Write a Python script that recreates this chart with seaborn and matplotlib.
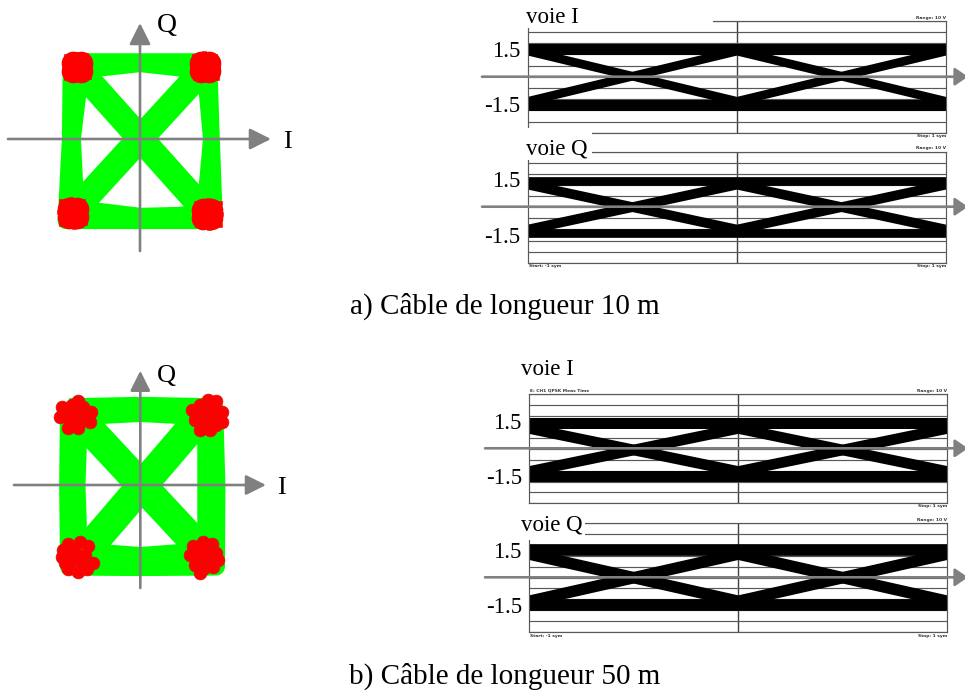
import pandas as pd
import matplotlib.pyplot as plt
from matplotlib.patches import FancyArrowPatch, Rectangle
import seaborn as sns

W, H = 965, 693
GREEN = '#00ff00'
RED = '#ff0000'
GRAY = '#808080'
LINE = '#585858'

# ==========================================
# DATA - constellations (I, Q)
# ==========================================
# 10 m cable
a_outer_i = [-1.60, 0, 1.60, 1.66, 1.73, 0, -1.72, -1.62, -1.60]
a_outer_q = [1.62, 1.62, 1.62, 0, -1.71, -1.71, -1.71, 0, 1.62]
a_top_i = [-1.50, -0.80, 0, 0.80, 1.50]
a_top_q = [1.42, 1.48, 1.56, 1.48, 1.42]
a_right_i = [1.48, 1.55, 1.64, 1.55, 1.52]
a_right_q = [1.50, 0.90, 0, -0.90, -1.50]
a_bottom_i = [-1.50, -0.90, 0, 0.90, 1.50]
a_bottom_q = [-1.44, -1.50, -1.60, -1.58, -1.52]
a_left_i = [-1.40, -1.43, -1.55, -1.50, -1.47]
a_left_q = [1.50, 0.90, 0, -0.90, -1.50]
a_diag1_i = [-1.45, 1.55]
a_diag1_q = [1.48, -1.54]
a_diag2_i = [1.50, -1.55]
a_diag2_q = [1.48, -1.52]

# solid centre of each cluster
a_core_i = [-1.54, -1.36, -1.54, -1.36, 1.41, 1.59, 1.41, 1.59,
            -1.64, -1.46, -1.64, -1.46, 1.46, 1.64, 1.46, 1.64]
a_core_q = [1.58, 1.58, 1.42, 1.42, 1.58, 1.58, 1.42, 1.42,
            -1.46, -1.46, -1.62, -1.62, -1.48, -1.48, -1.64, -1.64]
# speckle on the rim of each cluster
a_red_i = [-1.72, -1.50, -1.24, -1.16, -1.18, -1.42, -1.70, -1.74,
           1.25, 1.48, 1.74, 1.80, 1.78, 1.56, 1.26, 1.20,
           -1.82, -1.60, -1.32, -1.26, -1.28, -1.52, -1.82, -1.88,
           1.30, 1.56, 1.84, 1.88, 1.85, 1.60, 1.32, 1.25]
a_red_q = [1.73, 1.78, 1.75, 1.52, 1.30, 1.24, 1.27, 1.50,
           1.73, 1.79, 1.72, 1.50, 1.28, 1.22, 1.28, 1.50,
           -1.30, -1.26, -1.29, -1.54, -1.76, -1.84, -1.78, -1.52,
           -1.34, -1.28, -1.34, -1.56, -1.79, -1.86, -1.80, -1.56]

# 50 m cable
b_outer_i = [-1.62, 0, 1.68, 1.73, 1.72, 0, -1.62, -1.64, -1.62]
b_outer_q = [1.62, 1.65, 1.62, 0, -1.70, -1.71, -1.70, 0, 1.62]
b_top_i = [-1.50, -0.85, 0, 0.85, 1.50]
b_top_q = [1.42, 1.46, 1.50, 1.46, 1.42]
b_right_i = [1.48, 1.50, 1.50, 1.50, 1.52]
b_right_q = [1.50, 0.80, 0, -0.80, -1.50]
b_bottom_i = [-1.50, -0.85, 0, 0.85, 1.50]
b_bottom_q = [-1.40, -1.42, -1.48, -1.42, -1.40]
b_left_i = [-1.42, -1.42, -1.45, -1.42, -1.44]
b_left_q = [1.50, 0.80, 0, -0.80, -1.50]
b_diag1_i = [-1.50, 1.50]
b_diag1_q = [1.50, -1.45]
b_diag2_i = [1.50, -1.40]
b_diag2_q = [1.55, -1.55]

b_red_i = [-1.41, -1.56, -1.30, -1.79, -1.75, -1.48, -1.22, -1.60, -1.37, -1.14, -1.64, -1.41, -1.83, -1.11,
           1.55, 1.73, 1.36, 1.66, 1.17, 1.43, 1.85, 1.66, 1.24, 1.47, 1.85, 1.36, 1.58, 1.73,
           -1.37, -1.64, -1.18, -1.75, -1.48, -1.26, -1.79, -1.07, -1.56, -1.33, -1.64, -1.41, -1.22, -1.71,
           1.43, 1.62, 1.20, 1.36, 1.55, 1.73, 1.13, 1.28, 1.51, 1.77, 1.24, 1.43, 1.66, 1.36]
b_red_q = [1.74, 1.67, 1.63, 1.63, 1.49, 1.49, 1.46, 1.35, 1.32, 1.32, 1.18, 1.18, 1.42, 1.53,
           1.77, 1.74, 1.67, 1.60, 1.56, 1.49, 1.53, 1.39, 1.35, 1.28, 1.32, 1.15, 1.15, 1.25,
           -1.18, -1.22, -1.28, -1.35, -1.39, -1.46, -1.49, -1.63, -1.56, -1.63, -1.74, -1.81, -1.74, -1.63,
           -1.18, -1.22, -1.28, -1.35, -1.39, -1.42, -1.46, -1.53, -1.56, -1.56, -1.67, -1.74, -1.70, -1.84]

# ==========================================
# DATA - eye diagrams (time in symbols, volts)
# ==========================================
eye_t = [-1, 0, 1]
eye_grid = [-3, -2.4, -1.8, -1.2, -0.6, 0, 0.6, 1.2, 1.8, 2.4, 3]

a_i_high = [1.46, 1.46, 1.46]
a_i_low = [-1.52, -1.52, -1.52]
a_i_down = [1.37, -1.32, 1.37]
a_i_up = [-1.32, 1.37, -1.32]

a_q_high = [1.39, 1.39, 1.39]
a_q_low = [-1.38, -1.38, -1.38]
a_q_down = [1.22, -1.21, 1.22]
a_q_up = [-1.21, 1.22, -1.21]

b_i_high = [1.40, 1.40, 1.40]
b_i_low = [-1.49, -1.49, -1.49]
b_i_down = [1.12, -1.25, 1.12]
b_i_up = [-1.25, 1.12, -1.25]

b_q_high = [1.53, 1.53, 1.53]
b_q_low = [-1.51, -1.51, -1.51]
b_q_down = [1.28, -1.30, 1.28]
b_q_up = [-1.30, 1.28, -1.30]

sns.set_theme(style="white")
plt.rcParams['font.family'] = ['Liberation Serif', 'DejaVu Serif']

fig = plt.figure(figsize=(W / 100, H / 100), dpi=100, facecolor='white')


def px_axes(x0, y0, x1, y1):
    ax = fig.add_axes([x0 / W, 1 - y1 / H, (x1 - x0) / W, (y1 - y0) / H])
    ax.patch.set_alpha(0)
    return ax


def px_text(x, y, s, size, **kw):
    fig.text(x / W, 1 - y / H, s, fontsize=size, va='baseline', zorder=8, color=kw.pop('color', 'black'), **kw)


def px_arrow(x0, y0, x1, y1, head_l, head_w):
    style = f'-|>,head_length={head_l * 0.72},head_width={head_w * 0.36}'
    fig.add_artist(FancyArrowPatch((x0 / W, 1 - y0 / H), (x1 / W, 1 - y1 / H), transform=fig.transFigure,
                                   arrowstyle=style, mutation_scale=1, shrinkA=0, shrinkB=0,
                                   color=GRAY, lw=1.9, zorder=7))


def px_mask(x0, y0, x1, y1):
    fig.add_artist(Rectangle((x0 / W, 1 - y1 / H), (x1 - x0) / W, (y1 - y0) / H, transform=fig.transFigure,
                             facecolor='white', edgecolor='none', zorder=5))


def traces(*pairs):
    rows = []
    for n, (xs, ys) in enumerate(pairs):
        rows.append(pd.DataFrame({'trace': n, 'x': xs, 'y': ys}))
    return pd.concat(rows, ignore_index=True)


def draw_lines(ax, df, color, width_px):
    sns.lineplot(data=df, x='x', y='y', units='trace', estimator=None, sort=False, color=color,
                 linewidth=width_px * 0.72, solid_capstyle='butt', solid_joinstyle='round',
                 legend=False, ax=ax)


def constellation(rect, xlim, ylim, sides, diags, side_px, diag_px):
    ax = px_axes(*rect)
    draw_lines(ax, traces(*sides), GREEN, side_px)
    draw_lines(ax, traces(*diags), GREEN, diag_px)
    ax.set_xlim(*xlim)
    ax.set_ylim(*ylim)
    ax.axis('off')
    return ax


def eye(rect, high, low, down, up, flat_px, diag_px):
    ax = px_axes(*rect)
    flat = traces((eye_t, high), (eye_t, low))
    cross = traces((eye_t, down), (eye_t, up))
    draw_lines(ax, flat, 'black', flat_px)
    draw_lines(ax, cross, 'black', diag_px)
    ax.set_xlim(-1, 1)
    ax.set_ylim(-3, 3)
    ax.set_xticks([0])
    ax.set_yticks(eye_grid)
    ax.grid(True, axis='y', color=LINE, lw=0.85)
    ax.grid(True, axis='x', color='#404040', lw=1.0)
    ax.set_axisbelow(True)
    ax.tick_params(length=0, labelbottom=False, labelleft=False)
    ax.set_xlabel('')
    ax.set_ylabel('')
    for s in ax.spines.values():
        s.set_color(LINE)
        s.set_linewidth(0.85)


# ==========================================
# CONSTELLATIONS
# ==========================================
ax_a = constellation((8, 23, 272, 251), (-3.05, 3.05), (-2.333, 2.417),
                     [(a_outer_i, a_outer_q), (a_top_i, a_top_q), (a_right_i, a_right_q),
                      (a_bottom_i, a_bottom_q), (a_left_i, a_left_q)],
                     [(a_diag1_i, a_diag1_q), (a_diag2_i, a_diag2_q)], 16, 26)
sns.scatterplot(x=a_core_i, y=a_core_q, marker='o', s=290, color=RED, edgecolor=RED, linewidth=0, zorder=4, ax=ax_a)
sns.scatterplot(x=a_red_i, y=a_red_q, marker='s', s=10, color=RED, edgecolor=RED, linewidth=0.4, zorder=4, ax=ax_a)

ax_b = constellation((14, 370, 266, 588), (-2.87, 2.857), (-2.146, 2.396),
                     [(b_outer_i, b_outer_q), (b_top_i, b_top_q), (b_right_i, b_right_q),
                      (b_bottom_i, b_bottom_q), (b_left_i, b_left_q)],
                     [(b_diag1_i, b_diag1_q), (b_diag2_i, b_diag2_q)], 18, 30)
sns.scatterplot(x=b_red_i, y=b_red_q, marker='o', s=85, color=RED, edgecolor='#e01010', linewidth=0.5, zorder=4, ax=ax_b)

px_arrow(8, 139, 271, 139, 18, 18)
px_arrow(140, 251, 140, 23, 18, 18)
px_arrow(14, 485, 266, 485, 17, 17)
px_arrow(140.3, 588, 140.3, 370.7, 17, 17)

px_text(157, 32, 'Q', 20)
px_text(283, 148, 'I', 19)
px_text(157, 382, 'Q', 19)
px_text(277, 494, 'I', 19)

# ==========================================
# EYE DIAGRAMS
# ==========================================
eye((528, 20.7, 946, 132.7), a_i_high, a_i_low, a_i_down, a_i_up, 11, 8.7)
eye((528, 151.7, 946, 262.7), a_q_high, a_q_low, a_q_down, a_q_up, 8.7, 9.7)
eye((529.3, 394.3, 947.3, 503.3), b_i_high, b_i_low, b_i_down, b_i_up, 11, 10.7)
eye((529.3, 522.7, 947.3, 632.3), b_q_high, b_q_low, b_q_down, b_q_up, 11.7, 11.5)

# white boxes that sat behind the pasted labels
px_mask(515, 14, 713, 28)
px_mask(515, 128, 592, 160)
px_mask(515, 518, 585, 540)

for y, x0 in [(76.7, 482), (206.7, 482), (448.3, 485), (577.3, 485)]:
    px_arrow(x0, y, 968, y, 11, 15)

px_text(526, 23, 'voie I', 16.5)
px_text(492, 57, '1.5', 16.5)
px_text(484, 112, '-1.5', 16.5)
px_text(526, 154, 'voie Q', 16.5)
px_text(492, 187, '1.5', 16.5)
px_text(484, 243, '-1.5', 16.5)
px_text(521, 375, 'voie I', 16.5)
px_text(493, 429, '1.5', 16.5)
px_text(486, 484, '-1.5', 16.5)
px_text(521, 531, 'voie Q', 16.5)
px_text(493, 558, '1.5', 16.5)
px_text(486, 613, '-1.5', 16.5)

# tiny instrument read-outs
small = dict(family='DejaVu Sans', fontweight='bold', color='#333333')
for x, y, s in [(946, 18.5, 'Range: 10 V'), (946, 136.5, 'Stop: 1 sym'), (946, 149.5, 'Range: 10 V'),
                (946, 266.5, 'Stop: 1 sym'), (947, 392, 'Range: 10 V'), (947, 507.5, 'Stop: 1 sym'),
                (947, 520.5, 'Range: 10 V'), (947, 636.5, 'Stop: 1 sym')]:
    px_text(x, y, s, 3.2, ha='right', **small)
for x, y, s in [(529, 266.5, 'Start: -1 sym'), (530, 636.5, 'Start: -1 sym'), (530, 392, 'E: CH1 QPSK Meas Time')]:
    px_text(x, y, s, 3.2, ha='left', **small)

# ==========================================
# CAPTIONS
# ==========================================
px_text(350, 314, 'a) Câble de longueur 10 m', 21)
px_text(349, 684, 'b) Câble de longueur 50 m', 21)

fig.savefig('out.png', dpi=100)
